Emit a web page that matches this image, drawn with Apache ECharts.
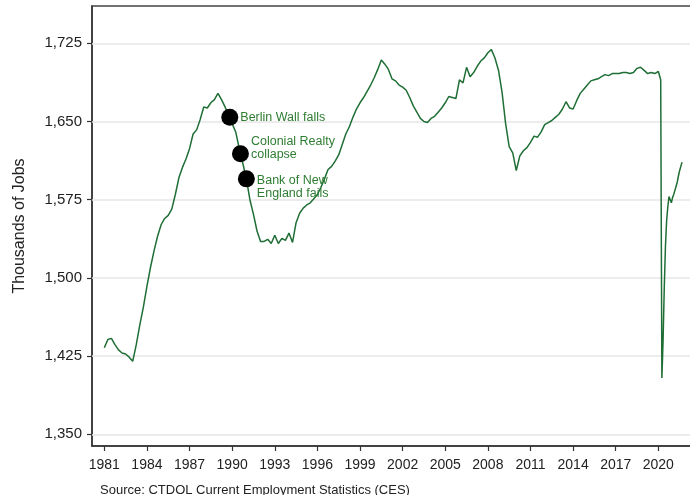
<!DOCTYPE html>
<html>
<head>
<meta charset="utf-8">
<script src="https://cdn.jsdelivr.net/npm/echarts@6/dist/echarts.min.js"></script>
<style>html,body{margin:0;padding:0;background:#fff}#c{width:690px;height:495px}</style>
</head>
<body>
<div id="c"></div>
<script>
// Quarterly readings (Jan, Apr, Jul, Oct) from 1981 to Jan 2020
const quarterStartYear = 1981;
const quarterValues = [
  1433, 1441, 1442, 1436,
  1431, 1428, 1427, 1424,
  1420, 1436, 1455, 1472,
  1492, 1510, 1526, 1540,
  1551, 1557, 1560, 1566,
  1580, 1596, 1606, 1614,
  1624, 1638, 1642, 1652,
  1664, 1663, 1668, 1671,
  1677, 1671, 1664, 1656,
  1648, 1640, 1624, 1610,
  1595, 1575, 1561, 1545,
  1535, 1535, 1537, 1533,
  1541, 1533, 1538, 1536,
  1543, 1534, 1553, 1562,
  1567, 1570, 1572, 1576,
  1580, 1587, 1595, 1604,
  1607, 1612, 1618, 1628,
  1638, 1645, 1654, 1662,
  1668, 1673, 1679, 1685,
  1692, 1700, 1709, 1705,
  1700, 1691, 1689, 1685,
  1683, 1680, 1673, 1665,
  1659, 1653, 1650, 1649,
  1653, 1655, 1659, 1663,
  1668, 1674, 1673, 1672,
  1690, 1687, 1702, 1693,
  1697, 1703, 1708, 1711,
  1716, 1719, 1711, 1699,
  1678, 1648, 1626, 1620,
  1603, 1617, 1622, 1625,
  1630, 1636, 1635, 1640,
  1647, 1649, 1651, 1654,
  1657, 1662, 1669, 1663,
  1662, 1670, 1677, 1681,
  1685, 1689, 1690, 1691,
  1693, 1695, 1694, 1696,
  1696, 1696, 1697, 1697,
  1696, 1697, 1701, 1702,
  1699, 1696, 1697, 1696,
  1698
];
// Monthly readings from Feb 2020 to Sep 2021
const monthlyStart = [2020, 2];
const monthlyValues = [
  1697, 1690, 1404, 1440, 1490, 1530, 1555, 1568, 1578, 1575, 1572,
  1577, 1580, 1584, 1588, 1592, 1598, 1603, 1607, 1611
];
// Events
const eventNames = ['Berlin Wall falls', 'Colonial Realty\ncollapse', 'Bank of New\nEngland fails'];
const eventDates = [[1989, 11], [1990, 8], [1991, 1]];
const eventValues = [1654, 1619, 1595];
// Axis ticks
const xTicks = [1981, 1984, 1987, 1990, 1993, 1996, 1999, 2002, 2005, 2008, 2011, 2014, 2017, 2020];
const yTicks = [1350, 1425, 1500, 1575, 1650, 1725];

const toX = (y, m) => y + (m - 1) / 12;
const lineData = [];
quarterValues.forEach((v, i) => {
  const y = quarterStartYear + Math.floor(i / 4);
  const m = (i % 4) * 3 + 1;
  lineData.push([toX(y, m), v]);
});
monthlyValues.forEach((v, i) => {
  const total = monthlyStart[1] - 1 + i;
  const y = monthlyStart[0] + Math.floor(total / 12);
  const m = (total % 12) + 1;
  lineData.push([toX(y, m), v]);
});
const labelOffsets = [[0, 0], [0, -6], [0, 8]];
const eventData = eventNames.map((n, i) => ({
  value: [toX(eventDates[i][0], eventDates[i][1]), eventValues[i]],
  name: n,
  label: { offset: labelOffsets[i] }
}));

const chart = echarts.init(document.getElementById('c'), null, { renderer: 'canvas' });
const fmt = v => v.toLocaleString('en-US');
chart.setOption({
  animation: false,
  backgroundColor: '#fff',
  textStyle: { fontFamily: 'Liberation Sans, Arial, sans-serif' },
  title: {
    text: 'Source: CTDOL Current Employment Statistics (CES)',
    left: 95, top: 479,
    textStyle: { fontSize: 13, fontWeight: 'normal', color: '#222', fontFamily: 'Liberation Sans, Arial, sans-serif' }
  },
  grid: {
    left: 92, top: 6, right: -3, bottom: 49,
    outerBoundsMode: 'none', containLabel: false,
    show: true, borderColor: '#444', borderWidth: 1.5, backgroundColor: '#fff'
  },
  xAxis: {
    type: 'value',
    min: 1980.134, max: 2022.44,
    axisLine: { show: true, lineStyle: { color: '#333', width: 1.5 } },
    axisTick: { show: true, length: 5, customValues: xTicks, lineStyle: { color: '#333', width: 1.2 } },
    axisLabel: { customValues: xTicks, fontSize: 14, color: '#222', margin: 12, formatter: v => String(v) },
    splitLine: { show: false }
  },
  yAxis: {
    type: 'value',
    min: 1338.8, max: 1760.8,
    name: 'Thousands of Jobs',
    nameLocation: 'middle', nameGap: 64, nameRotate: 90,
    nameTextStyle: { fontSize: 16, color: '#222' },
    axisLine: { show: true, lineStyle: { color: '#333', width: 1.5 } },
    axisTick: { show: true, length: 5, customValues: yTicks, lineStyle: { color: '#333', width: 1.2 } },
    axisLabel: { customValues: yTicks, fontSize: 15, color: '#222', margin: 10, formatter: v => fmt(v) },
    splitLine: { show: false }
  },
  series: [
    {
      type: 'line',
      data: lineData,
      showSymbol: false,
      lineStyle: { color: '#1f6e35', width: 1.5 },
      itemStyle: { color: '#1f6e35' },
      markLine: {
        silent: true, symbol: 'none', z: 1,
        label: { show: false },
        lineStyle: { color: '#e6e6e6', width: 1.5, type: 'solid' },
        data: yTicks.map(t => ({ yAxis: t }))
      },
      z: 3
    },
    {
      type: 'scatter',
      data: eventData,
      symbol: 'circle',
      symbolSize: 17,
      itemStyle: { color: '#000', opacity: 1 },
      label: {
        show: true, position: 'right', distance: 2,
        formatter: p => p.name,
        color: '#2e7d32', fontSize: 12.5, lineHeight: 13.5
      },
      z: 4
    }
  ]
});
</script>
</body>
</html>
